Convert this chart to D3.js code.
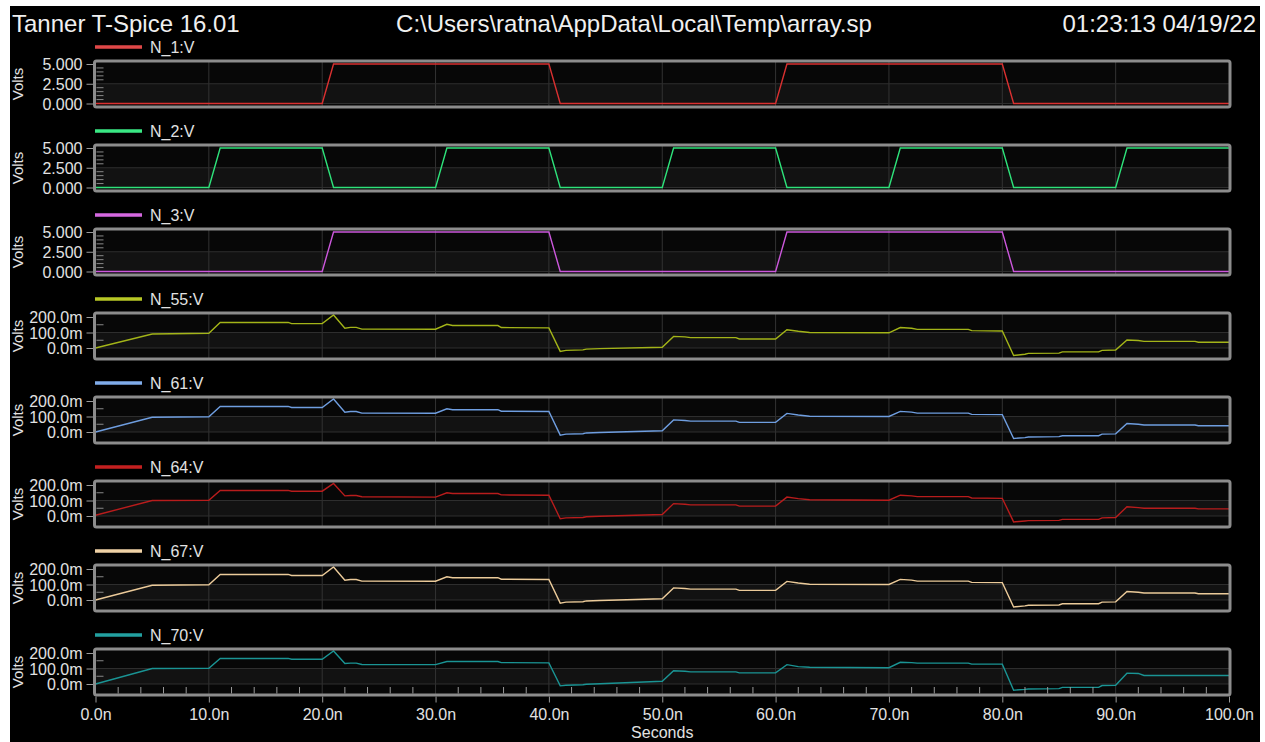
<!DOCTYPE html>
<html lang="en">
<head>
<meta charset="UTF-8" />
<title>T-Spice waveforms</title>
<script src="https://d3js.org/d3.v7.min.js"></script>
<style>
  html, body { margin: 0; padding: 0; background: #fff; }
  svg { display: block; font-family: "Liberation Sans", Arial, sans-serif; }
  .tick text { fill: #e2e2e2; font-size: 16px; }
</style>
</head>
<body>
<svg width="1265" height="742"></svg>
<script>
// ---- data (time in ns) ----
const tDigital = [0, 10, 11, 20, 21, 30, 31, 40, 41, 50, 51, 60, 61, 70, 71, 80, 81, 90, 91, 100];
const n1 = [0, 0, 0, 0, 5, 5, 5, 5, 0, 0, 0, 0, 5, 5, 5, 5, 0, 0, 0, 0];
const n2 = [0, 0, 5, 5, 0, 0, 5, 5, 0, 0, 5, 5, 0, 0, 5, 5, 0, 0, 5, 5];
const n3 = [0, 0, 0, 0, 5, 5, 5, 5, 0, 0, 0, 0, 5, 5, 5, 5, 0, 0, 0, 0];

// small nodes, values in mV
const tAnalog = [0, 5, 10, 11, 17, 17.3, 20, 21, 22, 22.5, 23, 23.5, 30, 31, 31.5, 35.5, 35.8, 40, 41, 41.5,
  43, 43.3, 44.5, 50, 51, 52, 52.5, 56.5, 56.8, 60, 61, 62, 63, 70, 71, 72, 72.5, 77, 77.3, 80,
  81, 82, 82.3, 85, 85.3, 88.5, 88.8, 90, 91, 92, 92.5, 97, 97.3, 100];
const n55 = [0, 90, 95, 165, 165, 157, 157, 213, 128, 133, 133, 122, 121, 153, 145, 145, 132, 130, -22, -15,
  -12, -7, -4, 5, 75, 72, 67, 67, 58, 58, 118, 108, 100, 98, 132, 127, 120, 120, 112, 110,
  -48, -40, -35, -33, -25, -25, -15, -13, 52, 48, 43, 43, 37, 37];
const n61 = [0, 95, 98, 165, 165, 158, 158, 213, 128, 132, 132, 122, 121, 150, 144, 144, 134, 132, -20, -14,
  -11, -6, -3, 8, 78, 74, 70, 70, 62, 62, 120, 110, 102, 100, 133, 128, 122, 122, 114, 112,
  -42, -36, -32, -30, -24, -24, -14, -12, 55, 50, 45, 45, 40, 40];
const n64 = [5, 100, 102, 165, 165, 160, 160, 210, 130, 132, 132, 124, 122, 150, 145, 145, 136, 134, -18, -12,
  -10, -5, -2, 10, 80, 76, 72, 72, 64, 64, 122, 112, 105, 102, 134, 130, 125, 125, 116, 114,
  -38, -32, -30, -28, -22, -22, -12, -10, 60, 54, 50, 50, 46, 46];
const n67 = [0, 95, 98, 165, 165, 158, 158, 213, 128, 132, 132, 122, 121, 150, 144, 144, 134, 132, -20, -14,
  -11, -6, -3, 8, 78, 74, 70, 70, 62, 62, 120, 110, 102, 100, 133, 128, 122, 122, 114, 112,
  -45, -38, -34, -32, -24, -24, -14, -12, 55, 50, 45, 45, 40, 40];
const n70 = [0, 100, 102, 165, 165, 160, 160, 213, 132, 135, 135, 126, 125, 145, 145, 145, 138, 136, -12, -8,
  -5, -2, 2, 18, 85, 82, 78, 78, 72, 72, 125, 112, 108, 105, 140, 138, 135, 135, 128, 128,
  -40, -35, -32, -30, -22, -22, -10, -8, 70, 68, 55, 55, 55, 55];

const signals = [
  { name: "N_1:V", t: tDigital, v: n1, color: "#d93030", legend: "#e04848", kind: "V" },
  { name: "N_2:V", t: tDigital, v: n2, color: "#2ee27a", legend: "#3ae884", kind: "V" },
  { name: "N_3:V", t: tDigital, v: n3, color: "#cc58dc", legend: "#d468e0", kind: "V" },
  { name: "N_55:V", t: tAnalog, v: n55, color: "#a3b418", legend: "#b8c826", kind: "m" },
  { name: "N_61:V", t: tAnalog, v: n61, color: "#6f9ee0", legend: "#80acea", kind: "m" },
  { name: "N_64:V", t: tAnalog, v: n64, color: "#b81c1c", legend: "#c42020", kind: "m" },
  { name: "N_67:V", t: tAnalog, v: n67, color: "#eccb9a", legend: "#f0d2a6", kind: "m" },
  { name: "N_70:V", t: tAnalog, v: n70, color: "#1a9494", legend: "#22a0a0", kind: "m" }
];

const xTicks = [0, 10, 20, 30, 40, 50, 60, 70, 80, 90, 100];
const vTicks = [0, 2.5, 5];
const mTicks = [0, 100, 200];

// ---- layout ----
const svg = d3.select("svg");
const left = 95.5, right = 1229, panelTop0 = 61, step = 84, frameH = 46;

svg.append("rect").attr("x", 10).attr("y", 6).attr("width", 1250).attr("height", 736).attr("fill", "#000");

// header
const head = svg.append("g").attr("fill", "#f0f0f0").style("font-size", "24px");
head.append("text").attr("x", 12).attr("y", 32).text("Tanner T-Spice 16.01");
head.append("text").attr("x", 634).attr("y", 32).attr("text-anchor", "middle")
  .text("C:\\Users\\ratna\\AppData\\Local\\Temp\\array.sp");
head.append("text").attr("x", 1256).attr("y", 32).attr("text-anchor", "end").text("01:23:13 04/19/22");

const x = d3.scaleLinear().domain([0, 100]).range([left, right]);

signals.forEach((s, i) => {
  const top = panelTop0 + i * step;
  const bottom = top + frameH;
  const isV = s.kind === "V";
  const y = d3.scaleLinear()
    .domain(isV ? [0, 5] : [0, 200])
    .range(isV ? [top + 42.5, top + 3] : [top + 35, top + 4]);
  const majors = isV ? vTicks : mTicks;
  const minorStep = isV ? 0.5 : 50;
  const g = svg.append("g");

  // legend
  g.append("line").attr("x1", 95).attr("x2", 142).attr("y1", top - 14).attr("y2", top - 14)
    .attr("stroke", s.legend).attr("stroke-width", 3.5);
  g.append("text").attr("x", 150).attr("y", top - 8).attr("fill", "#e2e2e2")
    .style("font-size", "16px").text(s.name);

  // plot background with shaded lower band
  g.append("rect").attr("x", left).attr("y", top).attr("width", right - left).attr("height", frameH)
    .attr("fill", "#070707");
  const bandTop = y(majors[1]), bandBot = y(majors[0]);
  g.append("rect").attr("x", left).attr("y", bandTop).attr("width", right - left)
    .attr("height", bandBot - bandTop).attr("fill", "#121212");

  // grid
  g.selectAll(".vg").data(xTicks.slice(1, -1)).enter().append("line")
    .attr("x1", d => x(d)).attr("x2", d => x(d)).attr("y1", top).attr("y2", bottom)
    .attr("stroke", "#333").attr("stroke-width", 1);
  g.selectAll(".hg").data(majors.slice(0, 2)).enter().append("line")
    .attr("x1", left).attr("x2", right).attr("y1", d => y(d)).attr("y2", d => y(d))
    .attr("stroke", "#2e2e2e").attr("stroke-width", 1);

  // minor ticks inside left edge
  const minors = d3.range(majors[0], majors[2] + 1e-9, minorStep).filter(d => !majors.includes(d));
  g.selectAll(".mt").data(minors).enter().append("line")
    .attr("x1", left + 1).attr("x2", left + 8).attr("y1", d => y(d)).attr("y2", d => y(d))
    .attr("stroke", "#888").attr("stroke-width", 1);

  // trace
  const clipId = "clip" + i;
  g.append("clipPath").attr("id", clipId).append("rect")
    .attr("x", left).attr("y", top + 1).attr("width", right - left).attr("height", frameH - 2);
  const pts = s.t.map((t, k) => [t, s.v[k]]);
  g.append("path").datum(pts)
    .attr("clip-path", `url(#${clipId})`)
    .attr("fill", "none").attr("stroke", s.color).attr("stroke-width", 1.4)
    .attr("d", d3.line().x(d => x(d[0])).y(d => y(d[1])));

  // y axis
  const ax = g.append("g").attr("transform", `translate(${left - 2},0)`)
    .call(d3.axisLeft(y).tickValues(majors).tickSize(7).tickPadding(4)
      .tickFormat(d => isV ? d.toFixed(3) : d.toFixed(1) + "m"));
  ax.select(".domain").remove();
  ax.selectAll(".tick line").attr("stroke", "#9a9a9a");
  ax.selectAll(".tick text").attr("dy", "0.36em");

  // Volts label
  g.append("text").attr("transform", `translate(23,${top + 23}) rotate(-90)`)
    .attr("text-anchor", "middle").attr("fill", "#e2e2e2").style("font-size", "15px").text("Volts");

  // frame
  g.append("rect").attr("x", left - 1).attr("y", top).attr("width", right - left + 2).attr("height", frameH)
    .attr("rx", 2).attr("fill", "none").attr("stroke", "#8c8c8c").attr("stroke-width", 3);

  // x axis on last panel
  if (i === signals.length - 1) {
    const xMinor = d3.range(2, 100, 2).filter(d => d % 10 !== 0);
    g.selectAll(".xm").data(xMinor).enter().append("line")
      .attr("x1", d => x(d)).attr("x2", d => x(d)).attr("y1", bottom - 1.5).attr("y2", bottom - 8)
      .attr("stroke", "#9a9a9a").attr("stroke-width", 1);
    const xa = g.append("g").attr("transform", `translate(0,${bottom + 1.5})`)
      .call(d3.axisBottom(x).tickValues(xTicks).tickSize(6).tickPadding(6)
        .tickFormat(d => d.toFixed(1) + "n"));
    xa.select(".domain").remove();
    xa.selectAll(".tick line").attr("stroke", "#9a9a9a");
    g.append("text").attr("x", x(50)).attr("y", 738).attr("text-anchor", "middle")
      .attr("fill", "#e2e2e2").style("font-size", "16px").text("Seconds");
  }
});
</script>
</body>
</html>
